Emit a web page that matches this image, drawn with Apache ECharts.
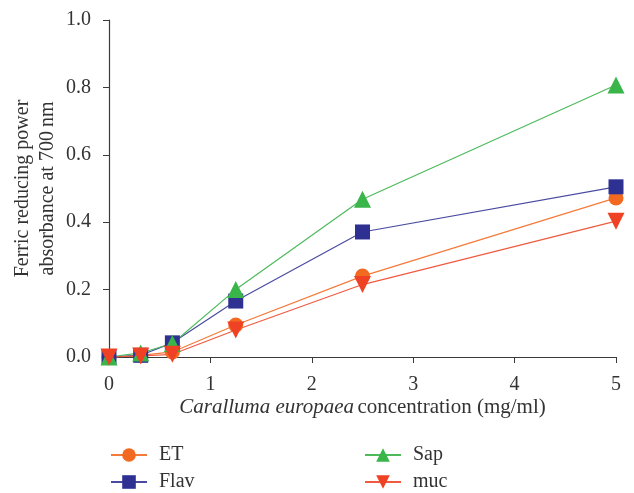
<!DOCTYPE html>
<html><head><meta charset="utf-8">
<script src="https://cdn.jsdelivr.net/npm/echarts@6/dist/echarts.min.js"></script>
<style>html,body{margin:0;padding:0;background:#fff}#c{width:634px;height:493px}</style>
</head><body><div id="c"></div>
<script>
var concentrations = [0, 0.3125, 0.625, 1.25, 2.5, 5];
var seriesNames = ['ET', 'Flav', 'Sap', 'muc'];
var etValues   = [0.0, 0.005, 0.015, 0.095, 0.240, 0.472];
var flavValues = [0.0, 0.005, 0.042, 0.166, 0.371, 0.505];
var sapValues  = [0.0, 0.012, 0.040, 0.200, 0.468, 0.807];
var mucValues  = [0.0, 0.003, 0.008, 0.080, 0.215, 0.403];
var xTicks = [0, 1, 2, 3, 4, 5];
var yTicks = [0.0, 0.2, 0.4, 0.6, 0.8, 1.0];

function pairs(v){ return concentrations.map(function(x,i){ return [x, v[i]]; }); }
var font = 'Liberation Serif';
var chart = echarts.init(document.getElementById('c'));
function mk(name, vals, color, lineColor, symbol, size, rot){
  return {
    name: name, type: 'line', data: pairs(vals), symbol: symbol, symbolSize: size,
    symbolRotate: rot || 0, clip: false,
    itemStyle: {color: color}, lineStyle: {color: lineColor, width: 1.2},
    emphasis: {disabled: true}, animation: false
  };
}
var legendText = {fontFamily: font, fontSize: 20, color: '#333', padding: [0,0,0,7]};
chart.setOption({
  animation: false,
  grid: {left: 109, right: 18, top: 20, bottom: 136, outerBoundsMode: 'none', containLabel: false},
  xAxis: {
    type: 'value', min: 0, max: 5, interval: 1,
    axisLine: {lineStyle: {color: '#3a3a3a', width: 1.2}},
    axisTick: {show: true, length: 6, lineStyle: {color: '#3a3a3a'}},
    axisLabel: {color: '#333', fontFamily: font, fontSize: 20, margin: 18,
      formatter: function(v){ return xTicks.indexOf(v) >= 0 ? String(v) : ''; }},
    splitLine: {show: false},
    name: '{i|Caralluma europaea} {n|concentration (mg/ml)}',
    nameLocation: 'middle', nameGap: 40, nameMoveOverlap: false,
    nameTextStyle: {rich: {
      i: {fontFamily: font, fontSize: 21, fontStyle: 'italic', color: '#333'},
      n: {fontFamily: font, fontSize: 21, color: '#333'}
    }}
  },
  yAxis: {
    type: 'value', min: 0, max: 1, interval: 0.2,
    axisLine: {show: true, lineStyle: {color: '#3a3a3a', width: 1.2}},
    axisTick: {show: true, length: 6, lineStyle: {color: '#3a3a3a'}},
    axisLabel: {color: '#333', fontFamily: font, fontSize: 20, margin: 18,
      formatter: function(v){ return v.toFixed(1); }},
    splitLine: {show: false},
    name: 'Ferric reducing power\nabsorbance at 700\u2009nm',
    nameLocation: 'middle', nameGap: 49, nameRotate: 90, nameMoveOverlap: false,
    nameTextStyle: {fontFamily: font, fontSize: 20, color: '#333', lineHeight: 25}
  },
  legend: [
    {data: ['ET', 'Flav'], orient: 'vertical', left: 110, top: 445, padding: 0,
     itemWidth: 36, itemHeight: 17, itemGap: 7, selectedMode: false, textStyle: legendText},
    {data: ['Sap', 'muc'], orient: 'vertical', left: 364, top: 445, padding: 0,
     itemWidth: 36, itemHeight: 17, itemGap: 7, selectedMode: false, textStyle: legendText}
  ],
  series: [
    mk('ET', etValues, '#F26A21', '#F47A3A', 'circle', 15),
    mk('Flav', flavValues, '#2E3192', '#4A4BA0', 'rect', 15),
    mk('Sap', sapValues, '#39B54A', '#4DBA5C', 'triangle', 17),
    mk('muc', mucValues, '#EF4123', '#F05A40', 'triangle', 17, 180)
  ]
});
</script></body></html>
